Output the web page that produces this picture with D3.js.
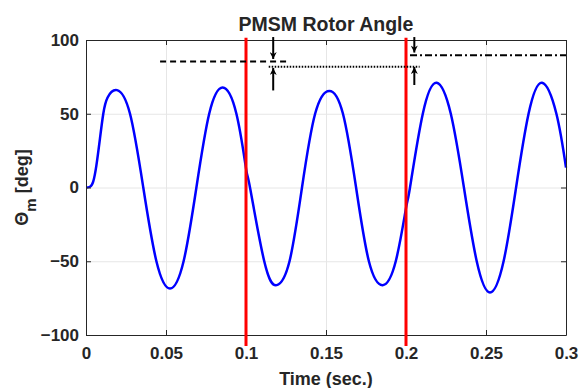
<!DOCTYPE html>
<html>
<head>
<meta charset="utf-8">
<script src="https://cdn.jsdelivr.net/npm/d3@7"></script>
<style>
body { margin: 0; background: #fff; }
text { font-family: "Liberation Sans", Arial, sans-serif; font-weight: bold; fill: #262626; }
</style>
</head>
<body>
<script>
// rotor angle trace
var time = [0, 0.0025, 0.0045, 0.0065, 0.0087, 0.0108, 0.0135, 0.0194, 0.0275, 0.0358, 0.0440, 0.0525,
	0.0610, 0.0690, 0.0770, 0.0854, 0.0940, 0.1, 0.1025, 0.1114, 0.1192,
	0.1272, 0.1350, 0.1432, 0.1521, 0.1606, 0.1688, 0.1768, 0.1854, 0.1936,
	0.2, 0.2025, 0.2105, 0.2192, 0.2280, 0.2362, 0.2442, 0.2525, 0.2610,
	0.2688, 0.2766, 0.2850, 0.2940, 0.3];
var theta = [0, 0.5, 4, 15, 33, 50, 61, 66, 50, 0, -50, -68.5,
	-50, 0, 50, 67.8, 50, 13, 0, -50, -66.2,
	-50, 0, 50, 65.5, 50, 0, -50, -66.2, -50,
	-14, 0, 50, 71, 50, 0, -50, -71.2, -50,
	0, 50, 71, 50, 13.5];

var stepTimes = [0.1, 0.2];
var stepSpan = [101.5, -107.5];

// reference levels: [start, end, value]
var dashedRef = [0.0463, 0.1254, 85.4];
var dottedRef = [0.1142, 0.2085, 81.8];
var dashDotRef = [0.2025, 0.3, 89.6];

// arrows: x, from, to
var arrowX = [0.117, 0.117, 0.2052, 0.2052];
var arrowFrom = [102, 65.8, 102, 69.5];
var arrowTo = [87.1, 81.0, 91.5, 81.7];

var xTicks = [0, 0.05, 0.1, 0.15, 0.2, 0.25, 0.3];
var yTicks = [-100, -50, 0, 50, 100];

var W = 580, H = 388;
var m = {left: 86, right: 14, top: 40, bottom: 53};
var w = W - m.left - m.right;
var h = H - m.top - m.bottom;

var svg = d3.select("body").append("svg")
	.attr("width", W)
	.attr("height", H);

var x = d3.scaleLinear().domain([0, 0.3]).range([m.left, m.left + w]);
var y = d3.scaleLinear().domain([-100, 100]).range([m.top + h, m.top]);

// grid
svg.append("g")
	.attr("transform", "translate(0," + (m.top + h) + ")")
	.call(d3.axisBottom(x).tickValues(xTicks).tickSize(-h).tickFormat(""))
	.call(function(g){ g.select(".domain").remove(); g.selectAll("line").attr("stroke", "#e6e6e6"); });
svg.append("g")
	.attr("transform", "translate(" + m.left + ",0)")
	.call(d3.axisLeft(y).tickValues(yTicks).tickSize(-w).tickFormat(""))
	.call(function(g){ g.select(".domain").remove(); g.selectAll("line").attr("stroke", "#e6e6e6"); });

// signal
var line = d3.line()
	.x(function(d, i){ return x(time[i]); })
	.y(function(d){ return y(d); })
	.curve(d3.curveNatural);

svg.append("path")
	.attr("d", line(theta))
	.attr("fill", "none")
	.attr("stroke", "#0000ff")
	.attr("stroke-width", 2.5);

// axes
function styleAxis(g){
	g.select(".domain").attr("stroke", "#262626");
	g.selectAll(".tick line").attr("stroke", "#262626");
	g.selectAll("text").attr("font-size", "17px").attr("fill", "#262626")
		.attr("font-family", "Liberation Sans, Arial, sans-serif").attr("font-weight", "bold");
}
svg.append("g")
	.attr("transform", "translate(0," + (m.top + h) + ")")
	.call(d3.axisBottom(x).tickValues(xTicks).tickSizeInner(-5).tickSizeOuter(0).tickPadding(12)
		.tickFormat(function(d){ return d3.format("")(+d.toFixed(2)); }))
	.call(styleAxis);
svg.append("g")
	.attr("transform", "translate(" + m.left + ",0)")
	.call(d3.axisLeft(y).tickValues(yTicks).tickSizeInner(-5).tickSizeOuter(0).tickPadding(7))
	.call(styleAxis);
svg.append("g")
	.attr("transform", "translate(0," + m.top + ")")
	.call(d3.axisTop(x).tickValues(xTicks).tickSizeInner(-5).tickSizeOuter(0).tickFormat(""))
	.call(styleAxis);
svg.append("g")
	.attr("transform", "translate(" + (m.left + w) + ",0)")
	.call(d3.axisRight(y).tickValues(yTicks).tickSizeInner(-5).tickSizeOuter(0).tickFormat(""))
	.call(styleAxis);

// step lines
svg.selectAll(".step")
	.data(stepTimes)
	.enter()
	.append("line")
	.attr("class", "step")
	.attr("x1", function(d){ return x(d); })
	.attr("x2", function(d){ return x(d); })
	.attr("y1", y(stepSpan[0]))
	.attr("y2", y(stepSpan[1]))
	.attr("stroke", "#ff0000")
	.attr("stroke-width", 3);

// reference levels
function refLine(r, dash){
	svg.append("line")
		.attr("x1", x(r[0])).attr("x2", x(r[1]))
		.attr("y1", y(r[2])).attr("y2", y(r[2]))
		.attr("stroke", "#000")
		.attr("stroke-width", 2)
		.attr("stroke-dasharray", dash);
}
refLine(dashedRef, "6,4");
refLine(dottedRef, "1.5,1.5");
refLine(dashDotRef, "7,3,2,3");

// arrows
svg.append("defs").append("marker")
	.attr("id", "head")
	.attr("viewBox", "0 0 10 10")
	.attr("refX", 10).attr("refY", 5)
	.attr("markerUnits", "userSpaceOnUse")
	.attr("markerWidth", 9).attr("markerHeight", 7)
	.attr("orient", "auto")
	.append("path")
	.attr("d", "M0,0L10,5L0,10L3,5Z")
	.attr("fill", "#000");

svg.selectAll(".arrow")
	.data(arrowX)
	.enter()
	.append("line")
	.attr("class", "arrow")
	.attr("x1", function(d){ return x(d); })
	.attr("x2", function(d){ return x(d); })
	.attr("y1", function(d, i){ return y(arrowFrom[i]); })
	.attr("y2", function(d, i){ return y(arrowTo[i]); })
	.attr("stroke", "#000")
	.attr("stroke-width", 2)
	.attr("marker-end", "url(#head)");

// labels
svg.append("text")
	.attr("x", m.left + w / 2)
	.attr("y", 31)
	.attr("text-anchor", "middle")
	.attr("font-size", "19.5px")
	.text("PMSM Rotor Angle");

svg.append("text")
	.attr("x", m.left + w / 2)
	.attr("y", 385)
	.attr("text-anchor", "middle")
	.attr("font-size", "18px")
	.text("Time (sec.)");

var yl = svg.append("text")
	.attr("transform", "translate(28," + (m.top + h / 2) + ") rotate(-90)")
	.attr("text-anchor", "middle")
	.attr("font-size", "18px");
yl.append("tspan").text("\u0398");
yl.append("tspan").attr("font-size", "15px").attr("dy", 8).text("m");
yl.append("tspan").attr("dy", -8).text(" [deg]");
</script>
</body>
</html>
